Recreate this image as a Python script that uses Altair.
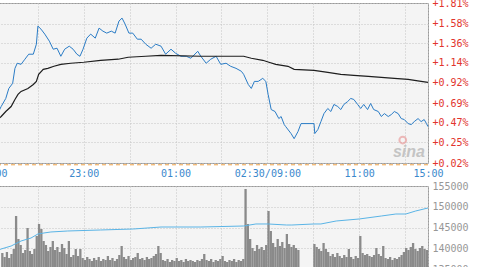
import altair as alt
import pandas as pd

# ---- price line (blue): minute-slot index and change vs previous settle (%)
price_idx = [0, 6, 12, 18, 22, 27, 30, 33, 38, 43, 48, 54, 58, 60, 64, 69, 75, 80, 85, 90,
             95, 101, 106, 111, 115, 119, 124, 129, 135, 140, 145, 150, 156, 161, 166, 170, 174, 179, 184, 190,
             195, 201, 208, 214, 221, 227, 234, 240, 247, 254, 260, 269, 273, 280, 286, 293, 299, 306, 312, 319,
             326, 329, 335, 339, 343, 348, 354, 358, 361, 365, 370, 375, 378, 382, 384, 391, 395, 400, 404, 421,
             422, 426, 430, 434, 439, 443, 447, 452, 456, 460, 465, 469, 473, 478, 482, 486, 491, 495, 499, 505,
             509, 513, 518, 522, 526, 531, 535, 539, 544, 548, 552, 557, 561, 565, 568, 570]
price_pct = [0.45, 0.55, 0.652, 0.742, 0.854, 0.911, 1.079, 1.136, 1.124, 1.181, 1.237, 1.237, 1.349, 1.552, 1.518, 1.462, 1.383, 1.293, 1.304, 1.214,
             1.293, 1.327, 1.293, 1.237, 1.214, 1.293, 1.417, 1.462, 1.417, 1.529, 1.495, 1.473, 1.495, 1.473, 1.608, 1.641, 1.574, 1.473, 1.473, 1.405,
             1.405, 1.349, 1.304, 1.349, 1.327, 1.237, 1.293, 1.248, 1.214, 1.214, 1.192, 1.270, 1.214, 1.136, 1.181, 1.214, 1.124, 1.136, 1.102, 1.079,
             1.046, 1.012, 0.899, 0.854, 0.933, 0.933, 0.967, 0.933, 0.787, 0.618, 0.596, 0.517, 0.540, 0.450, 0.427, 0.349, 0.292, 0.371, 0.461, 0.461,
             0.349, 0.394, 0.483, 0.573, 0.630, 0.596, 0.675, 0.652, 0.618, 0.675, 0.708, 0.742, 0.731, 0.675, 0.630, 0.675, 0.618, 0.686, 0.618, 0.596,
             0.540, 0.573, 0.540, 0.562, 0.596, 0.573, 0.517, 0.506, 0.461, 0.450, 0.483, 0.517, 0.483, 0.506, 0.461, 0.427]

# ---- average price line (black)
avg_idx = [0, 12, 18, 25, 30, 34, 38, 47, 54, 58, 61, 67, 73, 81, 90, 103, 120, 142, 165, 178,
           201, 221, 273, 329, 339, 354, 362, 371, 387, 395, 421, 439, 456, 473, 492, 509, 526, 544, 561, 570]
avg_pct = [0.45, 0.540, 0.596, 0.652, 0.731, 0.787, 0.821, 0.854, 0.899, 0.933, 1.012, 1.068, 1.079, 1.102, 1.124, 1.136, 1.147, 1.169, 1.181, 1.203,
           1.214, 1.225, 1.214, 1.214, 1.192, 1.169, 1.147, 1.124, 1.102, 1.068, 1.057, 1.034, 1.012, 1.001, 0.989, 0.978, 0.967, 0.956, 0.933, 0.922]

# ---- open interest (light blue, lower panel)
oi_idx = [0, 12, 25, 38, 51, 60, 68, 77, 99, 142, 185, 221, 273, 329, 345, 361, 385, 392, 421, 430,
          450, 480, 509, 528, 541, 554, 570]
oi_val = [139000, 139820, 140540, 141750, 142470, 143435, 143680, 143920, 144160, 144400, 144640, 145120, 145120, 145360, 145850, 145850, 145600, 145600, 145850, 145850,
          146570, 147050, 147770, 148250, 148250, 148980, 149700]

# ---- volume (hundreds of lots), one bar per 3 minute-slots starting at slot 12
vol_start, vol_step = 12, 3
volume = [16, 12, 17, 11, 15, 20, 53, 30, 24, 16,
          19, 41, 18, 15, 20, 33, 45, 40, 28, 24,
          18, 22, 28, 19, 22, 17, 25, 21, 15, 28,
          12, 14, 20, 13, 20, 11, 9, 12, 10, 8,
          11, 9, 12, 8, 10, 9, 13, 9, 11, 8,
          10, 14, 23, 12, 10, 13, 9, 11, 12, 16,
          10, 11, 9, 12, 10, 11, 13, 15, 23, 16,
          9, 8, 10, 7, 9, 8, 11, 8, 9, 7,
          10, 8, 9, 8, 7, 9, 8, 10, 15, 9,
          8, 10, 7, 9, 8, 10, 13, 8, 7, 9,
          8, 10, 7, 9, 8, 10, 80, 45, 30, 21,
          18, 24, 20, 22, 19, 24, 58, 38, 26, 22,
          30, 23, 27, 21, 35, 25, 22, 24, 21, 19,
          0, 0, 0, 0, 0, 0, 25, 22, 20, 18,
          26, 20, 17, 13, 15, 12, 16, 13, 11, 14,
          12, 20, 12, 10, 13, 11, 33, 16, 14, 15,
          13, 12, 14, 21, 15, 13, 23, 11, 10, 12,
          9, 11, 10, 12, 14, 17, 21, 19, 22, 26,
          20, 18, 21, 23, 20, 19, 22]

# ---- axis ticks / labels
x_grid = [0, 60, 120, 180, 240, 300, 360, 420, 480, 540, 570]
x_label_pos = [0, 120, 240, 360, 480, 570]
x_label_txt = ["21:00", "23:00", "01:00", "02:30/09:00", "11:00", "15:00"]
pct_ticks = [0.02, 0.25, 0.47, 0.69, 0.92, 1.14, 1.36, 1.58, 1.81]
oi_ticks = [135000, 140000, 145000, 150000, 155000]

FONT = "DejaVu Sans Mono"
X_DOMAIN = [0, 570]
W = 436

price_df = pd.DataFrame({"idx": price_idx, "pct": price_pct})
avg_df = pd.DataFrame({"idx": avg_idx, "pct": avg_pct})
oi_df = pd.DataFrame({"idx": oi_idx, "oi": oi_val})
vol_df = pd.DataFrame({"idx": [vol_start + vol_step * k for k in range(len(volume))], "vol": volume})

label_expr = " : ".join(
    f"datum.value == {p} ? '{t}'" for p, t in zip(x_label_pos, x_label_txt)
) + " : ''"

x_axis_top = alt.Axis(values=x_grid, labelExpr=label_expr, grid=True, gridDash=[1, 2],
                      gridColor="#c4c4c4", ticks=False, domain=False, labelColor="#3a88cc",
                      labelFont=FONT, labelFontSize=10, labelPadding=5, title=None,
                      labelOverlap=False, labelFlush=False)
x_axis_bottom = alt.Axis(values=x_grid, grid=True, gridDash=[1, 2], gridColor="#c4c4c4",
                         ticks=False, domain=False, labels=False, title=None)

xs_top = alt.X("idx:Q", scale=alt.Scale(domain=X_DOMAIN, nice=False, zero=False), axis=x_axis_top)
xs_bot = alt.X("idx:Q", scale=alt.Scale(domain=X_DOMAIN, nice=False, zero=False), axis=x_axis_bottom)

y_pct = alt.Y("pct:Q", scale=alt.Scale(domain=[0.02, 1.81], nice=False, zero=False),
              axis=alt.Axis(orient="right", values=pct_ticks,
                            labelExpr="'+' + format(datum.value, '.2f') + '%'",
                            grid=True, gridDash=[1, 2], gridColor="#c4c4c4", ticks=False,
                            domain=False, labelColor="#e2342d", labelFont=FONT,
                            labelFontSize=10, labelPadding=4, title=None,
                            labelOverlap=False, labelFlush=False))

base_line = alt.Chart(pd.DataFrame({"pct": [0.0]})).mark_rule(
    color="#f0a347", strokeDash=[4, 3], strokeWidth=1).encode(y=y_pct)

price = alt.Chart(price_df).mark_line(color="#2a7cc6", strokeWidth=1).encode(x=xs_top, y=y_pct)
avg = alt.Chart(avg_df).mark_line(color="#1e1e1e", strokeWidth=1.2).encode(x=xs_top, y=y_pct)

wm = pd.DataFrame({"idx": [545], "pct": [0.143]})
logo_txt = alt.Chart(wm).mark_text(text="sina", fontSize=16, fontStyle="italic", fontWeight="bold",
                                   font="Liberation Sans", color="#c4c4c4").encode(x=xs_top, y=y_pct)
eye = pd.DataFrame({"idx": [537], "pct": [0.277]})
logo_eye = alt.Chart(eye).mark_point(shape="circle", size=45, color="#eaa0a0", strokeWidth=2,
                                     filled=False).encode(x=xs_top, y=y_pct)

top = alt.layer(price, avg, logo_txt, logo_eye, base_line).properties(width=W, height=160)

bars = alt.Chart(vol_df).transform_calculate(idx2="datum.idx + 3").mark_rect(
    color="#8a8a8a", clip=True).encode(
    x=xs_bot, x2="idx2:Q",
    y=alt.Y("vol:Q", scale=alt.Scale(domain=[0, 83], nice=False), axis=None),
    y2=alt.datum(0))
oi_line = alt.Chart(oi_df).mark_line(color="#5ab4e6", strokeWidth=1).encode(
    x=xs_bot,
    y=alt.Y("oi:Q", scale=alt.Scale(domain=[135000, 155000], nice=False, zero=False),
            axis=alt.Axis(orient="right", values=oi_ticks, grid=True, gridDash=[1, 2],
                          gridColor="#c4c4c4", ticks=False, domain=False, labelColor="#979797",
                          labelFont=FONT, labelFontSize=10, labelPadding=4, title=None,
                          format="d", labelOverlap=False, labelFlush=False)))
bottom = alt.layer(bars, oi_line).resolve_scale(y="independent").properties(width=W, height=83)

chart = alt.vconcat(top, bottom, spacing=23, bounds="flush").properties(
    padding={"left": -24, "top": -3, "right": 0, "bottom": 0},
    background="white",
).configure_view(fill="#f4f4f4", stroke="#9a9a9a", strokeWidth=1)

chart.save("out.html", embed_options={"renderer": "svg", "actions": False})
